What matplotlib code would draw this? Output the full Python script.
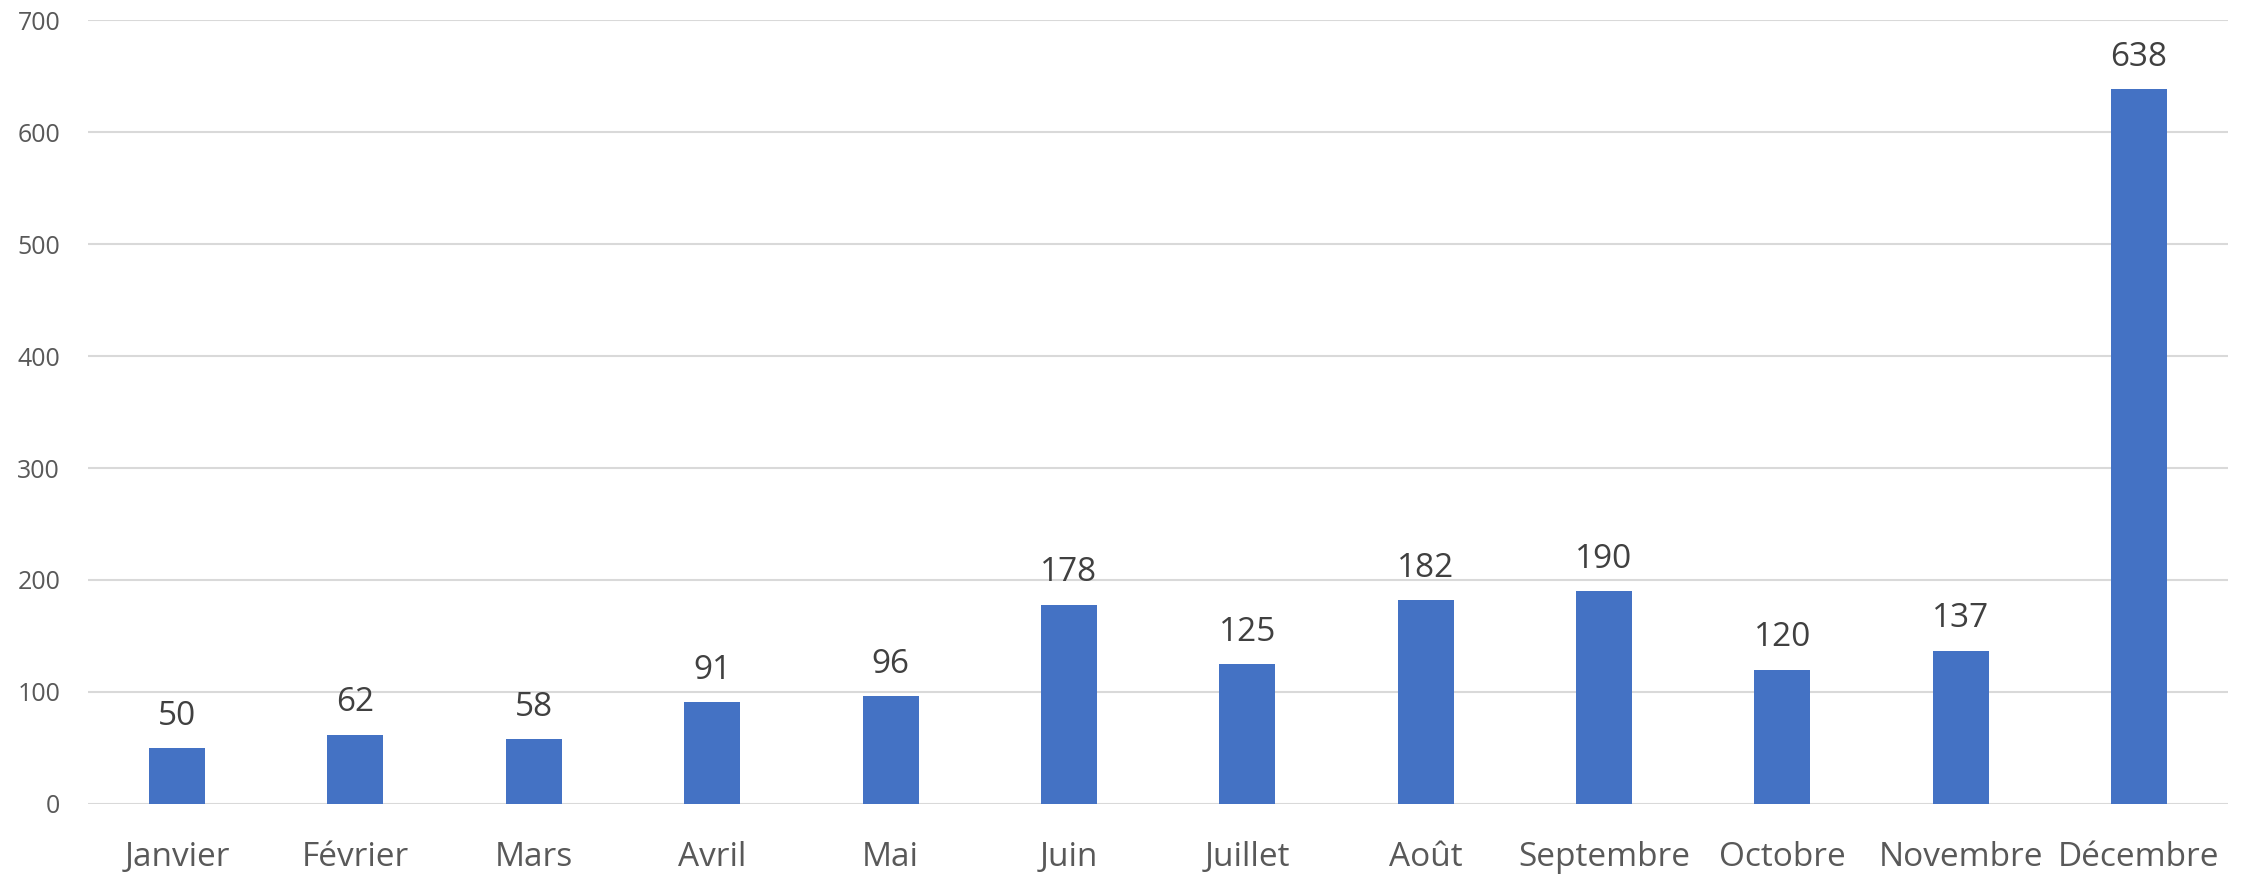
import numpy as np
import matplotlib.pyplot as plt

plt.rcParams['font.family'] = ['Open Sans', 'DejaVu Sans']

mois = ["Janvier", "Février", "Mars", "Avril", "Mai", "Juin", "Juillet",
        "Août", "Septembre", "Octobre", "Novembre", "Décembre"]
valeurs = [50, 62, 58, 91, 96, 178, 125, 182, 190, 120, 137, 638]
yticks = [0, 100, 200, 300, 400, 500, 600, 700]

fig = plt.figure(figsize=(22.44, 8.74), dpi=100)
ax = fig.add_axes([0.0392, 0.0801, 0.9537, 0.897])

x = np.arange(len(mois))
bars = ax.bar(x, valeurs, width=0.314, color="#4472C4", zorder=3)

for xi, v in zip(x, valeurs):
    ax.annotate(str(v), (xi, v), xytext=(0, 11), textcoords="offset points",
                ha="center", va="bottom", fontsize=24, color="#404040")

ax.set_xlim(-0.5, len(mois) - 0.5)
ax.set_ylim(0, 700)
ax.set_yticks(yticks)
ax.set_xticks(x)
ax.set_xticklabels(mois, fontsize=24, color="#595959")
ax.tick_params(axis="y", labelsize=18, labelcolor="#595959", length=0, pad=20)
ax.tick_params(axis="x", length=0, pad=27)
ax.grid(axis="y", color="#D9D9D9", linewidth=1.5, zorder=0)
for s in ax.spines.values():
    s.set_visible(False)

fig.savefig("out.png", dpi=100)
